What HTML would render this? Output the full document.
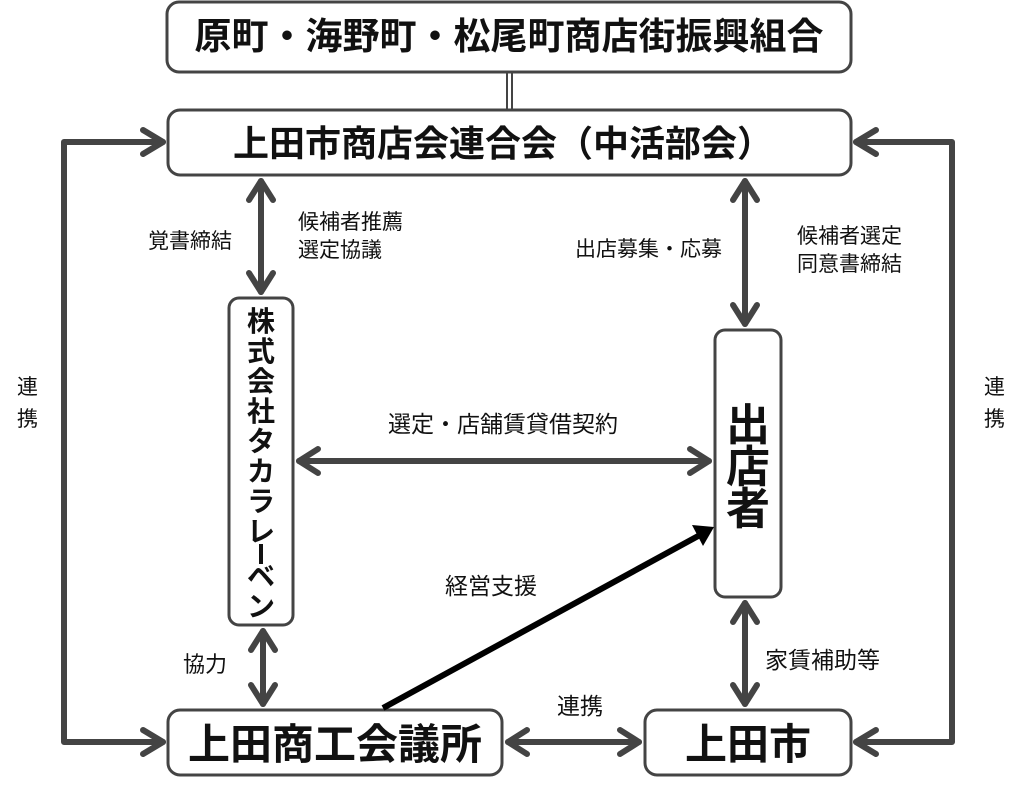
<!DOCTYPE html>
<html><head><meta charset="utf-8"><style>
html,body{margin:0;padding:0;background:#fff;}
svg{display:block;}
text{font-family:"Liberation Sans","Noto Sans CJK JP",sans-serif;fill:#111;}
</style></head><body>
<svg width="1024" height="793" viewBox="0 0 1024 793" xmlns="http://www.w3.org/2000/svg">
<g fill="#fff" stroke="#444" stroke-width="3">
<rect x="167" y="2" width="684" height="70" rx="12"/>
<rect x="168" y="110" width="683" height="65" rx="12"/>
<rect x="229" y="298" width="64" height="327" rx="10"/>
<rect x="715" y="330" width="66" height="267" rx="10"/>
<rect x="168" y="710" width="334" height="65" rx="12"/>
<rect x="645" y="710" width="206" height="65" rx="12"/>
</g>
<g stroke="#444" stroke-width="2"><line x1="507" y1="72" x2="507" y2="110"/><line x1="512" y1="72" x2="512" y2="110"/></g>
<g fill="none" stroke="#444" stroke-width="6" stroke-linecap="round" stroke-linejoin="round">
<polyline points="163,142 64,142 64,742 163,742"/>
<polyline points="143,130 163,142 143,154"/>
<polyline points="143,730 163,742 143,754"/>
<polyline points="856,142 952,142 952,742 856,742"/>
<polyline points="876,130 856,142 876,154"/>
<polyline points="876,730 856,742 876,754"/>
<line x1="261" y1="181" x2="261" y2="292"/>
<polyline points="249,200 261,181 273,200"/><polyline points="249,273 261,292 273,273"/>
<line x1="745" y1="181" x2="745" y2="324"/>
<polyline points="733,200 745,181 757,200"/><polyline points="733,305 745,324 757,305"/>
<line x1="299" y1="461" x2="709" y2="461"/>
<polyline points="318,449 299,461 318,473"/><polyline points="690,449 709,461 690,473"/>
<line x1="263" y1="631" x2="263" y2="704"/>
<polyline points="251,650 263,631 275,650"/><polyline points="251,685 263,704 275,685"/>
<line x1="508" y1="742" x2="639" y2="742"/>
<polyline points="527,730 508,742 527,754"/><polyline points="620,730 639,742 620,754"/>
<line x1="745" y1="603" x2="745" y2="704"/>
<polyline points="733,622 745,603 757,622"/><polyline points="733,685 745,704 757,685"/>
</g>
<line x1="383" y1="708" x2="700" y2="535" stroke="#000" stroke-width="6"/>
<polygon points="714,527 692,525 703,546" fill="#000"/>
<g font-weight="bold" text-anchor="middle">
<text x="509" y="49" font-size="37">原町・海野町・松尾町商店街振興組合</text>
<text x="503" y="156" font-size="36">上田市商店会連合会（中活部会）</text>
<text x="335" y="759" font-size="42">上田商工会議所</text>
<text x="748" y="759" font-size="42">上田市</text>
<g font-size="28">
<text x="261" y="331">株</text><text x="261" y="361">式</text><text x="261" y="391">会</text><text x="261" y="421">社</text>
<text x="261" y="451">タ</text><text x="261" y="481">カ</text><text x="261" y="511">ラ</text><text x="261" y="541">レ</text>
<text x="261" y="586">ベ</text><text x="261" y="616">ン</text>
</g>
<g font-size="44"><text x="748" y="440">出</text><text x="748" y="482">店</text><text x="748" y="524">者</text></g>
</g>
<rect x="259" y="544" width="4" height="20" fill="#111"/>
<g font-size="21">
<text x="148" y="248">覚書締結</text>
<text x="298" y="229">候補者推薦</text><text x="298" y="257">選定協議</text>
<text x="575" y="256">出店募集・応募</text>
<text x="797" y="243">候補者選定</text><text x="797" y="271">同意書締結</text>
<text x="17" y="394">連</text><text x="17" y="426">携</text>
<text x="984" y="394">連</text><text x="984" y="426">携</text>
<text x="388" y="432" font-size="23">選定・店舗賃貸借契約</text>
<text x="445" y="594" font-size="23">経営支援</text>
<text x="183" y="672" font-size="22">協力</text>
<text x="557" y="714" font-size="23">連携</text>
<text x="765" y="668" font-size="23">家賃補助等</text>
</g>
</svg>
</body></html>
